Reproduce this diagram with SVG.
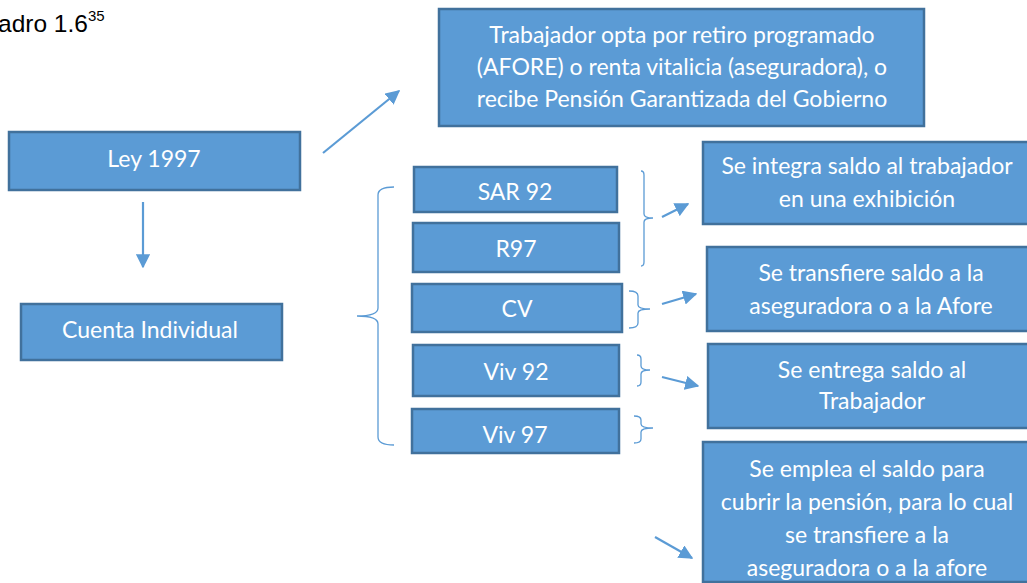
<svg xmlns="http://www.w3.org/2000/svg" width="1027" height="583" viewBox="0 0 1027 583">
<style>
.box{fill:#5B9BD5;stroke:#41719C;stroke-width:2.5}
.t{font-family:Lato,"Open Sans",sans-serif;font-size:23px;fill:#FFFFFF;text-anchor:middle}
.conn{stroke:#5B9BD5;stroke-width:2.2;fill:none}
.brace{stroke:#5B9BD5;stroke-width:1.3;fill:none}
.hdr{font-family:"Liberation Sans",Arial,sans-serif;fill:#000000}
</style>
<defs>
<marker id="ah" viewBox="0 0 10 10" refX="9" refY="5" markerWidth="6.5" markerHeight="6.5" markerUnits="strokeWidth" orient="auto">
<path d="M0,0 L10,5 L0,10 Z" fill="#5B9BD5"/>
</marker>
</defs>
<rect width="1027" height="583" fill="#FFFFFF"/>
<text class="hdr" x="-2" y="32" font-size="24.5">adro 1.6<tspan font-size="15" dy="-11">35</tspan></text>

<g id="ley1997"><rect class="box" x="9" y="132" width="291" height="58"/><text class="t" x="154" y="167">Ley 1997</text></g>
<g id="cuenta"><rect class="box" x="21" y="304" width="261" height="56"/><text class="t" x="150" y="338" font-size="25">Cuenta Individual</text></g>
<g id="trabajador"><rect class="box" x="439" y="9" width="485" height="117"/>
<text class="t" x="682" y="43">Trabajador opta por retiro programado</text>
<text class="t" x="682" y="75">(AFORE) o renta vitalicia (aseguradora), o</text>
<text class="t" x="682" y="107">recibe Pensión Garantizada del Gobierno</text></g>
<g id="sar92"><rect class="box" x="414" y="167" width="203" height="45"/><text class="t" x="515" y="200" font-size="22">SAR 92</text></g>
<g id="r97"><rect class="box" x="413" y="223" width="206" height="49"/><text class="t" x="516" y="257">R97</text></g>
<g id="cv"><rect class="box" x="412" y="284" width="210" height="48"/><text class="t" x="517" y="317">CV</text></g>
<g id="viv92"><rect class="box" x="413" y="345" width="206" height="51"/><text class="t" x="516" y="380" font-size="22">Viv 92</text></g>
<g id="viv97"><rect class="box" x="412" y="409" width="207" height="44"/><text class="t" x="515" y="443" font-size="22">Viv 97</text></g>
<g id="integra"><rect class="box" x="703" y="142" width="340" height="82"/>
<text class="t" x="867" y="174">Se integra saldo al trabajador</text>
<text class="t" x="867" y="207">en una exhibición</text></g>
<g id="transfiere"><rect class="box" x="707" y="247" width="340" height="84"/>
<text class="t" x="871" y="281">Se transfiere saldo a la</text>
<text class="t" x="871" y="314">aseguradora o a la Afore</text></g>
<g id="entrega"><rect class="box" x="708" y="344" width="340" height="84"/>
<text class="t" x="872" y="378">Se entrega saldo al</text>
<text class="t" x="872" y="409">Trabajador</text></g>
<g id="emplea"><rect class="box" x="703" y="442" width="340" height="140"/>
<text class="t" x="867" y="477">Se emplea el saldo para</text>
<text class="t" x="867" y="510">cubrir la pensión, para lo cual</text>
<text class="t" x="867" y="543">se transfiere a la</text>
<text class="t" x="867" y="576">aseguradora o a la afore</text></g>

<g id="connectors">
<line class="conn" x1="143" y1="202" x2="143" y2="267" marker-end="url(#ah)"/>
<line class="conn" x1="323" y1="153" x2="399" y2="91" marker-end="url(#ah)"/>
<line class="conn" x1="662" y1="217" x2="688" y2="204" marker-end="url(#ah)"/>
<line class="conn" x1="662" y1="304" x2="696" y2="294" marker-end="url(#ah)"/>
<line class="conn" x1="662" y1="377" x2="698" y2="386" marker-end="url(#ah)"/>
<line class="conn" x1="655" y1="537" x2="692" y2="558" marker-end="url(#ah)"/>
<path class="brace" d="M394,187 Q378,187 378,195 L378,308 Q378,316 357,316 Q378,316 378,324 L378,437 Q378,445 394,445"/>
<path class="brace" d="M641,171 Q644,171 644,175 L644,214 Q644,218 653,218 Q644,218 644,222 L644,262 Q644,266 641,266"/>
<path class="brace" d="M629,291 Q638,291 638,296 L638,305 Q638,309 650,309 Q638,309 638,313 L638,323 Q638,328 629,328"/>
<path class="brace" d="M637,355 Q641,355 641,359 L641,366 Q641,370 650,370 Q641,370 641,374 L641,382 Q641,386 637,386"/>
<path class="brace" d="M634,416 Q641,416 641,420 L641,424 Q641,428 653,428 Q641,428 641,432 L641,439 Q641,443 634,443"/>
</g>
</svg>
